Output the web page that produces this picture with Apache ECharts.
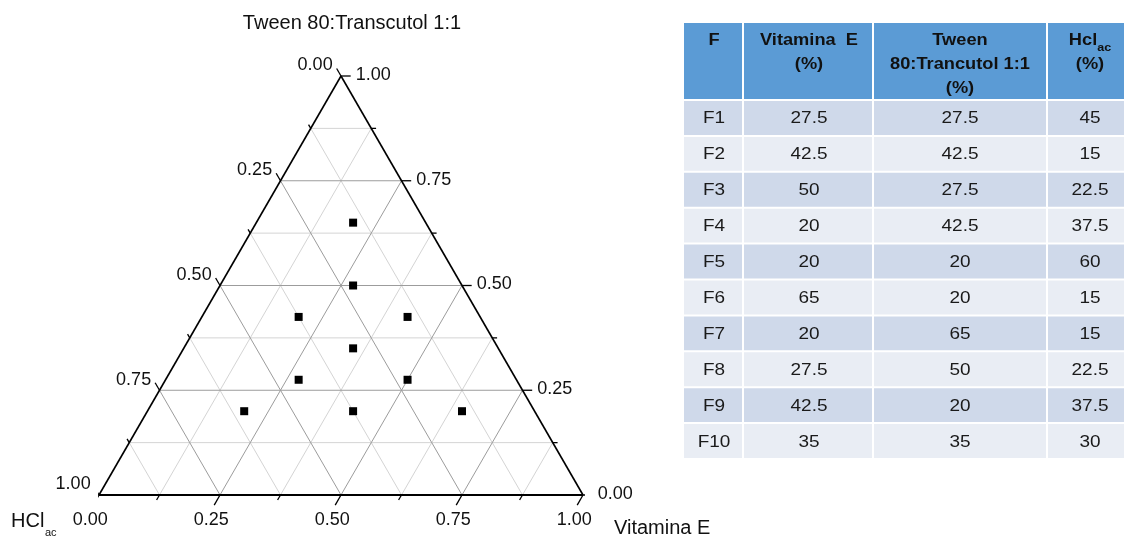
<!DOCTYPE html>
<html><head><meta charset="utf-8">
<style>html,body{margin:0;padding:0;background:#fff}#c{width:1125px;height:537px}</style>
<script src="https://cdn.jsdelivr.net/npm/echarts@6.0.0/dist/echarts.min.js"></script>
</head><body><div id="c"></div>
<script>
// ---------- data ----------
const formulations = ['F1','F2','F3','F4','F5','F6','F7','F8','F9','F10'];
const vitaminaE = [27.5, 42.5, 50, 20, 20, 65, 20, 27.5, 42.5, 35];
const tweenTranscutol = [27.5, 42.5, 27.5, 42.5, 20, 20, 65, 50, 20, 35];
const hclAc = [45, 15, 22.5, 37.5, 60, 15, 15, 22.5, 37.5, 30];
const tickValues = [0, 0.25, 0.5, 0.75, 1];
const tickLabels = ['0.00', '0.25', '0.50', '0.75', '1.00'];
const gridDivisions = 8;

// ---------- helpers ----------
const FONT = "'Liberation Sans', Arial, Helvetica, sans-serif";
const TXT = '#111';
function toXY(v, t) { return [v + t / 2, t]; } // ternary (VitE, Tween) -> cartesian units

const series = [];
function seg(a, b, color, width, z) {
  series.push({ type: 'line', data: [a, b], symbol: 'none', silent: true, clip: false,
    animation: false, lineStyle: { color: color, width: width, opacity: 1 }, z: z || 2 });
}

// grid lines
for (let k = 1; k < gridDivisions; k++) {
  const f = k / gridDivisions;
  const major = k % 2 === 0;
  const col = major ? '#9c9c9c' : '#d4d4d4';
  seg(toXY(0, f), toXY(1 - f, f), col, 1, major ? 3 : 2);       // constant Tween
  seg(toXY(f, 0), toXY(f, 1 - f), col, 1, major ? 3 : 2);       // constant Vitamina E
  seg(toXY(1 - f, 0), toXY(0, 1 - f), col, 1, major ? 3 : 2);   // constant HCl
}

// edges
seg(toXY(0, 0), toXY(0, 1), '#000', 1.6, 5);
seg(toXY(1, 0), toXY(0, 1), '#000', 1.6, 5);
seg(toXY(0, 0), toXY(1, 0), '#000', 2.2, 5);

// ticks
const eR = 0.02, eB = 0.024, eL = 0.018;
for (let k = 0; k <= gridDivisions; k++) {
  const f = k / gridDivisions;
  const m = k % 2 === 0 ? 1 : 0.5;
  const r0 = toXY(1 - f, f);
  seg(r0, [r0[0] + eR * m, r0[1]], '#000', 1.3, 5);
  seg(toXY(f, 0), toXY(f, -eB * m), '#000', 1.3, 5);
  seg(toXY(0, 1 - f), toXY(-eL * m, 1 - f + eL * m), '#000', 1.3, 5);
}

// tick labels
const lblBase = { show: true, fontSize: 18, fontFamily: FONT, color: TXT, opacity: 1,
  formatter: p => tickLabels[p.dataIndex] };
function labelSeries(data, extra) {
  series.push({ type: 'scatter', symbolSize: 0, silent: true, clip: false, animation: false,
    itemStyle: { opacity: 1 }, data: data, label: Object.assign({}, lblBase, extra) });
}
labelSeries(tickValues.map(f => [1 - f + f / 2 + eR, f]), { position: 'right', distance: 5, offset: [0, -1] });
labelSeries(tickValues.map(f => toXY(f, -eB)), { position: 'bottom', distance: 6, offset: [-3, 0] });
labelSeries(tickValues.map(f => toXY(-eL, 1 - f + eL)), { position: 'left', distance: 4, offset: [0, -3] });

// formulation points
series.push({ type: 'scatter', name: 'Formulações', symbol: 'rect', symbolSize: 8, clip: false,
  animation: false, itemStyle: { color: '#000', opacity: 1 }, z: 10,
  data: formulations.map((f, i) => toXY(vitaminaE[i] / 100, tweenTranscutol[i] / 100)) });

// ---------- table (graphic) ----------
const tableHeaders = ['F', 'Vitamina  E\n(%)', 'Tween\n80:Trancutol 1:1\n(%)', '{b|Hcl}{s|ac}\n{b|(%)}'];
const colEdges = [683, 743, 873, 1047, 1125];
const colCenters = [714, 809, 960, 1090];
const tableTop = 23, headerH = 77, rowH = 35.9;
const g = [];
for (let c = 0; c < 4; c++) {
  g.push({ type: 'rect', silent: true, shape: { x: colEdges[c] + 1, y: tableTop, width: colEdges[c + 1] - colEdges[c] - 2, height: headerH - 1 },
    style: { fill: '#5b9bd5' } });
  const rich = c === 3;
  g.push({ type: 'text', silent: true, x: colCenters[c], y: tableTop + 6, scaleX: 1.14, z: 20,
    style: rich ? {
      text: tableHeaders[c], align: 'center', verticalAlign: 'top',
      rich: { b: { fontSize: 16, fontWeight: 'bold', fontFamily: FONT, fill: '#111', lineHeight: 24 },
              s: { fontSize: 11, fontWeight: 'bold', fontFamily: FONT, fill: '#111', lineHeight: 14, verticalAlign: 'bottom' } }
    } : {
      text: tableHeaders[c], align: 'center', verticalAlign: 'top', lineHeight: 24,
      font: 'bold 16px ' + FONT, fill: '#111'
    } });
}
formulations.forEach((f, r) => {
  const y0 = tableTop + headerH + r * rowH;
  const fill = r % 2 === 0 ? '#cfd9ea' : '#e9edf4';
  const vals = [f, vitaminaE[r], tweenTranscutol[r], hclAc[r]];
  for (let c = 0; c < 4; c++) {
    g.push({ type: 'rect', silent: true, shape: { x: colEdges[c] + 1, y: y0 + 1, width: colEdges[c + 1] - colEdges[c] - 2, height: rowH - 2 },
      style: { fill: fill } });
    g.push({ type: 'text', silent: true, x: colCenters[c], y: y0 + rowH / 2 + 1, scaleX: 1.15, z: 20,
      style: { text: String(vals[c]), align: 'center', verticalAlign: 'middle',
        font: '16.5px ' + FONT, fill: '#1a1a1a' } });
  }
});

// axis titles
g.push({ type: 'text', silent: true, x: 352, y: 23, style: { text: 'Tween 80:Transcutol 1:1', align: 'center', verticalAlign: 'middle', font: '20px ' + FONT, fill: TXT } });
g.push({ type: 'text', silent: true, x: 11, y: 521, style: { text: 'HCl', align: 'left', verticalAlign: 'middle', font: '20px ' + FONT, fill: TXT } });
g.push({ type: 'text', silent: true, x: 45, y: 533, style: { text: 'ac', align: 'left', verticalAlign: 'middle', font: '11px ' + FONT, fill: TXT } });
g.push({ type: 'text', silent: true, x: 614, y: 528, style: { text: 'Vitamina E', align: 'left', verticalAlign: 'middle', font: '20px ' + FONT, fill: TXT } });

const chart = echarts.init(document.getElementById('c'), null, { renderer: 'canvas' });
chart.setOption({
  animation: false,
  backgroundColor: '#fff',
  grid: { left: 99, right: 542, top: 76, bottom: 42 },
  xAxis: { type: 'value', min: 0, max: 1, show: false },
  yAxis: { type: 'value', min: 0, max: 1, show: false },
  series: series,
  graphic: { elements: g }
});
</script>
</body></html>
